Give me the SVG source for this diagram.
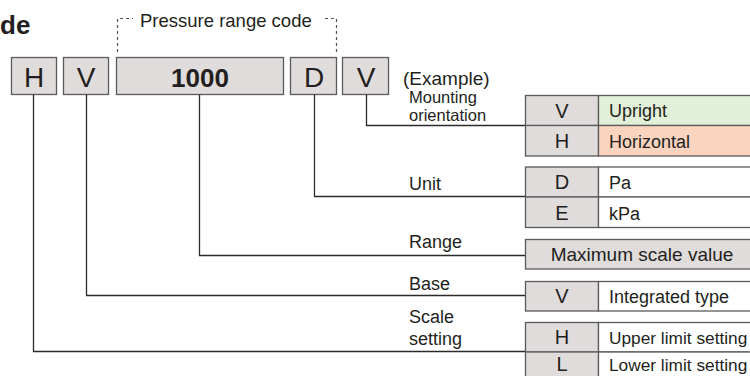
<svg xmlns="http://www.w3.org/2000/svg" width="750" height="376" viewBox="0 0 750 376">
<style>
text{font-family:"Liberation Sans",Arial,sans-serif;fill:#231f20}
.box{fill:#e0dcdb;stroke:#5a5a5a;stroke-width:1.3}
.wbox{fill:#ffffff;stroke:#5a5a5a;stroke-width:1.3}
.green{fill:#e2efd9;stroke:#5a5a5a;stroke-width:1.3}
.salmon{fill:#fbd4c0;stroke:#5a5a5a;stroke-width:1.3}
.big{font-size:28px;text-anchor:middle}
.code{font-size:20px;text-anchor:middle}
.desc{font-size:18px}
.lbl{font-size:18px}
.conn{fill:none;stroke:#2b2b2b;stroke-width:1.3}
.dash{fill:none;stroke:#555;stroke-width:1.2;stroke-dasharray:3 3}
</style>
<text x="0" y="34" style="font-size:26px;font-weight:bold">de</text>
<g id="pressure-bracket">
<path class="dash" d="M117.5,52 V18.5 H133"/>
<path class="dash" d="M325,18.5 H336.5 V53"/>
<text x="140" y="26.5" style="font-size:18.5px">Pressure range code</text>
</g>
<g id="code-H"><rect class="box" x="11.5" y="57.5" width="45" height="37"/><text class="big" x="34" y="86.5">H</text></g>
<g id="code-V"><rect class="box" x="63.5" y="57.5" width="45" height="37"/><text class="big" x="86" y="86.5">V</text></g>
<g id="code-1000"><rect class="box" x="116.5" y="57.5" width="167" height="37"/><text x="200" y="86.5" style="font-size:26px;font-weight:bold;text-anchor:middle">1000</text></g>
<g id="code-D"><rect class="box" x="290.5" y="57.5" width="46" height="37"/><text class="big" x="314" y="86.5">D</text></g>
<g id="code-V2"><rect class="box" x="342.5" y="57.5" width="46" height="37"/><text class="big" x="366" y="86.5">V</text></g>
<text x="403" y="85" style="font-size:19px">(Example)</text>
<g id="connectors">
<path class="conn" d="M366.5,94.5 V125.5 H525"/>
<path class="conn" d="M314.5,94.5 V196.5 H525"/>
<path class="conn" d="M199.5,94.5 V255.5 H525"/>
<path class="conn" d="M86.5,94.5 V295.5 H525"/>
<path class="conn" d="M33.5,94.5 V351.5 H525"/>
</g>
<g id="mounting">
<text x="409" y="103" style="font-size:16.5px">Mounting</text>
<text x="409" y="121" style="font-size:16.5px">orientation</text>
<rect class="box" x="525.5" y="95.5" width="73" height="30"/>
<rect class="green" x="598.5" y="95.5" width="160" height="30"/>
<rect class="box" x="525.5" y="125.5" width="73" height="30.5"/>
<rect class="salmon" x="598.5" y="125.5" width="160" height="30.5"/>
<text class="code" x="562" y="117.5">V</text><text class="desc" x="609" y="117">Upright</text>
<text class="code" x="562" y="148">H</text><text class="desc" x="609" y="148">Horizontal</text>
</g>
<g id="unit">
<text class="lbl" x="409" y="190">Unit</text>
<rect class="box" x="525.5" y="167" width="73" height="30"/>
<rect class="wbox" x="598.5" y="167" width="160" height="30"/>
<rect class="box" x="525.5" y="197" width="73" height="30.5"/>
<rect class="wbox" x="598.5" y="197" width="160" height="30.5"/>
<text class="code" x="562" y="189">D</text><text class="desc" x="609" y="189">Pa</text>
<text class="code" x="562" y="219.5">E</text><text class="desc" x="609" y="219.5">kPa</text>
</g>
<g id="range">
<text class="lbl" x="409" y="248">Range</text>
<rect class="box" x="525.5" y="239.5" width="233" height="29.5"/>
<text class="desc" x="642" y="261" style="text-anchor:middle;font-size:19px">Maximum scale value</text>
</g>
<g id="base">
<text class="lbl" x="409" y="289.5">Base</text>
<rect class="box" x="525.5" y="281.5" width="73" height="29.5"/>
<rect class="wbox" x="598.5" y="281.5" width="160" height="29.5"/>
<text class="code" x="562" y="303">V</text><text class="desc" x="609" y="303">Integrated type</text>
</g>
<g id="scale">
<text class="lbl" x="409" y="323">Scale</text>
<text class="lbl" x="409" y="344.5">setting</text>
<rect class="box" x="525.5" y="322.5" width="73" height="29.5"/>
<rect class="wbox" x="598.5" y="322.5" width="160" height="29.5"/>
<rect class="box" x="525.5" y="352" width="73" height="30"/>
<rect class="wbox" x="598.5" y="352" width="160" height="30"/>
<text class="code" x="562" y="344">H</text><text class="desc" x="609" y="344" style="font-size:17.3px">Upper limit setting</text>
<text class="code" x="562" y="371">L</text><text class="desc" x="609" y="371" style="font-size:17.3px">Lower limit setting</text>
</g>
</svg>
